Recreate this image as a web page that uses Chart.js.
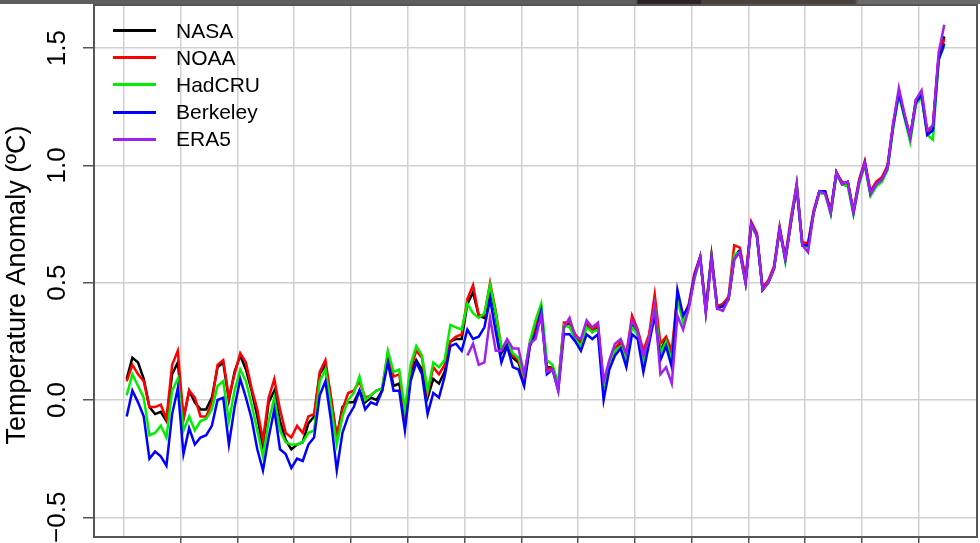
<!DOCTYPE html>
<html>
<head>
<meta charset="utf-8">
<title>Temperature anomaly</title>
<script src="https://cdn.jsdelivr.net/npm/chart.js@4.4.1/dist/chart.umd.min.js"></script>
<style>
  html, body { margin: 0; padding: 0; background: #fff; overflow: hidden; }
  #wrap { position: relative; width: 980px; height: 543px; }
  #topband {
    position: absolute; left: 0; top: 0; width: 980px; height: 4px;
    background: linear-gradient(to right, #5e5e5e 0, #5e5e5e 636px, #2c2424 638px, #2c2424 700px, #4a403c 702px, #4a403c 855px, #6a6a6a 858px, #6a6a6a 980px);
  }
  #legend {
    position: absolute; left: 113px; top: 17px;
    font-family: "Liberation Sans", Arial, sans-serif; font-size: 21px; color: #000;
  }
  .item { display: flex; align-items: center; height: 27.2px; }
  .swatch { width: 43px; height: 3px; margin-right: 20px; }
</style>
</head>
<body>
<div id="wrap">
  <canvas id="chart" width="980" height="543"></canvas>
  <div id="topband"></div>
  <div id="legend"></div>
</div>
<script>
// annual global mean temperature anomalies (ºC), 1880-2024 (ERA5 from 1940)
const firstYear = 1880;
const era5FirstYear = 1940;

const nasa = [
  0.09, 0.18, 0.16, 0.09, -0.03, -0.06, -0.05, -0.09, 0.11, 0.16,
  -0.08, 0.04, -0.01, -0.04, -0.04, 0.01, 0.14, 0.16, 0.00, 0.12,
  0.19, 0.13, 0.04, -0.07, -0.20, -0.01, 0.04, -0.09, -0.17, -0.21,
  -0.19, -0.18, -0.10, -0.07, 0.11, 0.15, 0.00, -0.16, -0.03, -0.01,
  -0.01, 0.04, -0.01, 0.01, 0.00, 0.04, 0.18, 0.06, 0.07, -0.06,
  0.12, 0.17, 0.13, 0.01, 0.09, 0.07, 0.12, 0.25, 0.26, 0.26,
  0.41, 0.46, 0.36, 0.35, 0.47, 0.36, 0.20, 0.24, 0.18, 0.16,
  0.08, 0.23, 0.30, 0.37, 0.14, 0.14, 0.06, 0.31, 0.33, 0.27,
  0.24, 0.32, 0.29, 0.31, 0.06, 0.15, 0.21, 0.24, 0.18, 0.33,
  0.28, 0.18, 0.27, 0.41, 0.21, 0.26, 0.18, 0.44, 0.34, 0.40,
  0.53, 0.61, 0.38, 0.61, 0.40, 0.40, 0.43, 0.61, 0.64, 0.51,
  0.75, 0.70, 0.47, 0.50, 0.56, 0.73, 0.60, 0.76, 0.91, 0.66,
  0.66, 0.80, 0.89, 0.89, 0.80, 0.97, 0.92, 0.93, 0.80, 0.93,
  1.01, 0.88, 0.92, 0.94, 0.99, 1.17, 1.31, 1.21, 1.12, 1.27,
  1.30, 1.14, 1.17, 1.46, 1.55
];
const noaa = [
  0.08, 0.15, 0.11, 0.08, -0.03, -0.03, -0.02, -0.08, 0.15, 0.21,
  -0.08, 0.04, 0.01, -0.07, -0.07, -0.01, 0.15, 0.17, 0.01, 0.11,
  0.20, 0.16, 0.05, -0.04, -0.17, 0.01, 0.09, -0.04, -0.14, -0.16,
  -0.11, -0.14, -0.07, -0.06, 0.12, 0.17, 0.01, -0.16, -0.04, 0.03,
  0.04, 0.08, 0.01, 0.02, 0.04, 0.05, 0.20, 0.10, 0.11, -0.06,
  0.13, 0.21, 0.18, 0.03, 0.14, 0.11, 0.15, 0.25, 0.27, 0.28,
  0.43, 0.49, 0.36, 0.36, 0.50, 0.38, 0.22, 0.25, 0.19, 0.17,
  0.09, 0.24, 0.31, 0.39, 0.13, 0.14, 0.06, 0.33, 0.33, 0.28,
  0.25, 0.33, 0.30, 0.32, 0.07, 0.16, 0.22, 0.25, 0.19, 0.36,
  0.30, 0.21, 0.28, 0.45, 0.24, 0.27, 0.21, 0.45, 0.35, 0.41,
  0.54, 0.61, 0.39, 0.62, 0.40, 0.41, 0.44, 0.66, 0.65, 0.52,
  0.76, 0.71, 0.48, 0.51, 0.57, 0.74, 0.61, 0.78, 0.92, 0.67,
  0.67, 0.81, 0.89, 0.89, 0.81, 0.97, 0.93, 0.92, 0.81, 0.94,
  1.02, 0.89, 0.93, 0.95, 1.00, 1.18, 1.31, 1.21, 1.12, 1.28,
  1.30, 1.14, 1.17, 1.46, 1.54
];
const hadcru = [
  0.02, 0.11, 0.06, 0.01, -0.15, -0.14, -0.11, -0.16, 0.04, 0.09,
  -0.13, -0.07, -0.13, -0.09, -0.08, -0.04, 0.06, 0.08, -0.09, 0.04,
  0.13, 0.08, -0.02, -0.13, -0.24, -0.09, 0.01, -0.13, -0.18, -0.19,
  -0.19, -0.18, -0.14, -0.13, 0.08, 0.13, -0.03, -0.19, -0.07, 0.00,
  0.03, 0.10, 0.00, 0.02, 0.04, 0.05, 0.21, 0.12, 0.13, -0.04,
  0.15, 0.23, 0.19, 0.04, 0.16, 0.14, 0.17, 0.32, 0.31, 0.30,
  0.41, 0.37, 0.35, 0.37, 0.49, 0.37, 0.22, 0.25, 0.20, 0.18,
  0.10, 0.25, 0.34, 0.41, 0.17, 0.15, 0.07, 0.32, 0.31, 0.26,
  0.23, 0.31, 0.29, 0.30, 0.06, 0.14, 0.21, 0.23, 0.17, 0.31,
  0.28, 0.17, 0.26, 0.40, 0.20, 0.25, 0.17, 0.43, 0.33, 0.40,
  0.52, 0.60, 0.38, 0.61, 0.39, 0.40, 0.43, 0.62, 0.63, 0.50,
  0.74, 0.70, 0.47, 0.50, 0.56, 0.73, 0.59, 0.76, 0.92, 0.66,
  0.65, 0.80, 0.88, 0.88, 0.79, 0.96, 0.92, 0.91, 0.79, 0.92,
  1.00, 0.87, 0.91, 0.93, 0.98, 1.16, 1.30, 1.20, 1.10, 1.26,
  1.29, 1.13, 1.11, 1.45, 1.51
];
const berkeley = [
  -0.07, 0.04, -0.01, -0.07, -0.25, -0.22, -0.24, -0.28, -0.06, 0.05,
  -0.23, -0.12, -0.19, -0.16, -0.15, -0.11, 0.00, 0.01, -0.19, -0.03,
  0.09, 0.01, -0.08, -0.21, -0.30, -0.16, -0.04, -0.21, -0.23, -0.29,
  -0.25, -0.26, -0.19, -0.16, 0.02, 0.08, -0.09, -0.30, -0.14, -0.07,
  -0.03, 0.04, -0.04, -0.01, -0.02, 0.04, 0.16, 0.04, 0.04, -0.13,
  0.08, 0.16, 0.11, -0.06, 0.03, 0.01, 0.10, 0.23, 0.24, 0.21,
  0.30, 0.26, 0.27, 0.31, 0.43, 0.29, 0.16, 0.23, 0.14, 0.13,
  0.06, 0.23, 0.28, 0.38, 0.11, 0.13, 0.04, 0.28, 0.28, 0.25,
  0.21, 0.28, 0.26, 0.28, 0.00, 0.13, 0.19, 0.22, 0.14, 0.28,
  0.26, 0.12, 0.24, 0.36, 0.17, 0.23, 0.14, 0.47, 0.36, 0.40,
  0.53, 0.61, 0.38, 0.61, 0.39, 0.40, 0.43, 0.60, 0.63, 0.50,
  0.75, 0.70, 0.47, 0.50, 0.56, 0.73, 0.60, 0.76, 0.91, 0.66,
  0.66, 0.80, 0.89, 0.89, 0.80, 0.97, 0.92, 0.93, 0.80, 0.93,
  1.01, 0.88, 0.92, 0.94, 0.99, 1.17, 1.31, 1.21, 1.12, 1.27,
  1.30, 1.13, 1.15, 1.45, 1.52
];
const era5 = [
  0.19, 0.24, 0.15, 0.16, 0.35, 0.21, 0.21, 0.26, 0.22, 0.22,
  0.11, 0.24, 0.26, 0.36, 0.12, 0.13, 0.04, 0.31, 0.35, 0.27,
  0.26, 0.34, 0.31, 0.33, 0.08, 0.17, 0.24, 0.26, 0.20, 0.34,
  0.29, 0.19, 0.26, 0.40, 0.11, 0.14, 0.07, 0.36, 0.30, 0.39,
  0.52, 0.61, 0.37, 0.60, 0.39, 0.38, 0.43, 0.60, 0.63, 0.50,
  0.75, 0.70, 0.47, 0.50, 0.56, 0.73, 0.60, 0.76, 0.92, 0.66,
  0.63, 0.80, 0.89, 0.88, 0.80, 0.97, 0.92, 0.93, 0.80, 0.93,
  1.01, 0.88, 0.92, 0.94, 0.99, 1.18, 1.33, 1.22, 1.12, 1.28,
  1.32, 1.15, 1.17, 1.48, 1.60
];

const seriesNames = ['NASA', 'NOAA', 'HadCRU', 'Berkeley', 'ERA5'];
const seriesColors = ['#000000', '#ff0000', '#00ee00', '#0000ff', '#a020f0'];
const seriesValues = [nasa, noaa, hadcru, berkeley, era5];
const seriesStart = [firstYear, firstYear, firstYear, firstYear, era5FirstYear];

const xGridYears = [1880, 1890, 1900, 1910, 1920, 1930, 1940, 1950, 1960, 1970, 1980, 1990, 2000, 2010, 2020];
const yTicks = [-0.5, 0, 0.5, 1.0, 1.5];
const yTitle = 'Temperature Anomaly (ºC)';

// annual means sit at mid-year
function toPoints(values, start) {
  return values.map((v, i) => ({ x: start + i + 0.5, y: v }));
}

const datasets = seriesNames.map((name, k) => ({
  label: name,
  data: toPoints(seriesValues[k], seriesStart[k]),
  borderColor: seriesColors[k],
  backgroundColor: seriesColors[k],
  borderWidth: 2.5,
  pointRadius: 0,
  tension: 0,
  order: seriesNames.length - k   // later series drawn on top
}));

const framePlugin = {
  id: 'frame',
  afterDraw(chart) {
    const { ctx, chartArea: a } = chart;
    ctx.save();
    ctx.strokeStyle = '#555';
    ctx.lineWidth = 2;
    ctx.strokeRect(a.left, a.top, a.right - a.left, a.bottom - a.top);
    ctx.translate(25, 285);
    ctx.rotate(-Math.PI / 2);
    ctx.font = '27px "Liberation Sans", Arial, sans-serif';
    ctx.fillStyle = '#000';
    ctx.textAlign = 'center';
    ctx.textBaseline = 'alphabetic';
    ctx.fillText(yTitle, 0, 0);
    ctx.restore();
  }
};

const chart = new Chart(document.getElementById('chart'), {
  type: 'line',
  data: { datasets },
  options: {
    responsive: false,
    animation: false,
    layout: { padding: { top: 5, right: 3, left: 0, bottom: 0 } },
    plugins: { legend: { display: false }, tooltip: { enabled: false } },
    scales: {
      x: {
        type: 'linear',
        min: 1874.74,
        max: 2030.26,
        afterBuildTicks: (s) => { s.ticks = xGridYears.map(v => ({ value: v })); },
        afterFit: (s) => { s.height = 6; s.paddingLeft = 0; s.paddingRight = 0; },
        ticks: { display: false },
        border: { display: false },
        grid: {
          color: '#d0d0d0',
          lineWidth: 1.5,
          drawTicks: true,
          tickLength: 6,
          tickWidth: 1.5,
          tickColor: (c) => (c.tick && c.tick.value === 1880 ? 'rgba(0,0,0,0)' : '#555')
        }
      },
      y: {
        type: 'linear',
        min: -0.584,
        max: 1.684,
        afterBuildTicks: (s) => { s.ticks = yTicks.map(v => ({ value: v })); },
        afterFit: (s) => { s.width = 94; s.paddingTop = 0; s.paddingBottom = 0; },
        border: { display: false },
        ticks: {
          minRotation: 90,
          maxRotation: 90,
          crossAlign: 'center',
          padding: 0,
          color: '#000',
          font: { family: '"Liberation Sans", Arial, sans-serif', size: 26 },
          callback: (v) => v.toFixed(1).replace('-', '\u2212')
        },
        grid: {
          color: '#d0d0d0',
          lineWidth: 1.5,
          drawTicks: true,
          tickLength: 11,
          tickWidth: 1.5,
          tickColor: '#555'
        }
      }
    }
  },
  plugins: [framePlugin]
});

// legend in the upper left corner of the plot
const legendEl = document.getElementById('legend');
seriesNames.forEach((name, k) => {
  const row = document.createElement('div');
  row.className = 'item';
  const sw = document.createElement('span');
  sw.className = 'swatch';
  sw.style.background = seriesColors[k];
  const txt = document.createElement('span');
  txt.textContent = name;
  row.appendChild(sw);
  row.appendChild(txt);
  legendEl.appendChild(row);
});
</script>
</body>
</html>
